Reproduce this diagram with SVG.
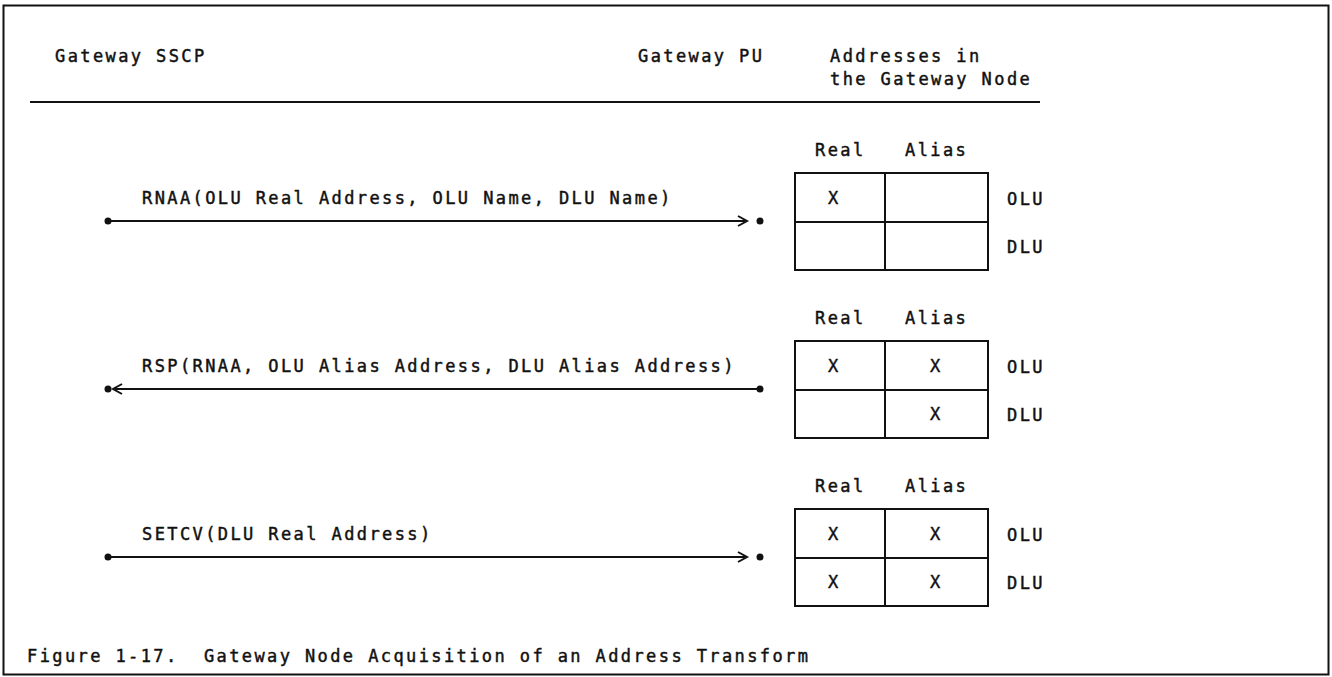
<svg xmlns="http://www.w3.org/2000/svg" width="1332" height="677" viewBox="0 0 1332 677">
<style>
text{font-family:"DejaVu Sans Mono","Liberation Mono",monospace;font-size:17px;letter-spacing:2.4px;fill:#111;stroke:#111;stroke-width:0.45px;white-space:pre}
.ln{stroke:#111;stroke-width:2;fill:none}
.dot{fill:#111}
</style>
<rect x="3.5" y="5.5" width="1325" height="669" class="ln"/>
<g id="header">
<text x="55" y="62">Gateway SSCP</text>
<text x="638" y="62">Gateway PU</text>
<text x="830" y="62">Addresses in</text>
<text x="830" y="85">the Gateway Node</text>
<line x1="30" y1="102" x2="1040" y2="102" class="ln" stroke-width="2.5"/>
</g>
<g id="table1">
<text x="815" y="156">Real</text><text x="905" y="156">Alias</text>
<rect x="795" y="173" width="193" height="97" class="ln"/>
<line x1="885" y1="173" x2="885" y2="270" class="ln"/>
<line x1="795" y1="222" x2="988" y2="222" class="ln"/>
<text x="828" y="204">X</text>
<text x="1007" y="205">OLU</text><text x="1007" y="253">DLU</text>
</g>
<g id="table2">
<text x="815" y="324">Real</text><text x="905" y="324">Alias</text>
<rect x="795" y="341" width="193" height="97" class="ln"/>
<line x1="885" y1="341" x2="885" y2="438" class="ln"/>
<line x1="795" y1="390" x2="988" y2="390" class="ln"/>
<text x="828" y="372">X</text><text x="930" y="372">X</text>
<text x="930" y="420">X</text>
<text x="1007" y="373">OLU</text><text x="1007" y="421">DLU</text>
</g>
<g id="table3">
<text x="815" y="492">Real</text><text x="905" y="492">Alias</text>
<rect x="795" y="509" width="193" height="97" class="ln"/>
<line x1="885" y1="509" x2="885" y2="606" class="ln"/>
<line x1="795" y1="558" x2="988" y2="558" class="ln"/>
<text x="828" y="540">X</text><text x="930" y="540">X</text>
<text x="828" y="588">X</text><text x="930" y="588">X</text>
<text x="1007" y="541">OLU</text><text x="1007" y="589">DLU</text>
</g>
<g id="connectors">
<g id="msg1">
<text x="142" y="204">RNAA(OLU Real Address, OLU Name, DLU Name)</text>
<circle cx="108" cy="221" r="3.5" class="dot"/>
<line x1="108" y1="221" x2="745" y2="221" class="ln"/>
<polyline points="738,216 747,221 738,226" class="ln"/>
<circle cx="760" cy="221" r="3.5" class="dot"/>
</g>
<g id="msg2">
<text x="142" y="372">RSP(RNAA, OLU Alias Address, DLU Alias Address)</text>
<circle cx="108" cy="389" r="3.5" class="dot"/>
<polyline points="122,384 113,389 122,394" class="ln"/>
<line x1="115" y1="389" x2="760" y2="389" class="ln"/>
<circle cx="760" cy="389" r="3.5" class="dot"/>
</g>
<g id="msg3">
<text x="142" y="540">SETCV(DLU Real Address)</text>
<circle cx="108" cy="557" r="3.5" class="dot"/>
<line x1="108" y1="557" x2="745" y2="557" class="ln"/>
<polyline points="738,552 747,557 738,562" class="ln"/>
<circle cx="760" cy="557" r="3.5" class="dot"/>
</g>
</g>
<g id="caption">
<text x="27" y="662">Figure 1-17.  Gateway Node Acquisition of an Address Transform</text>
</g>
</svg>
